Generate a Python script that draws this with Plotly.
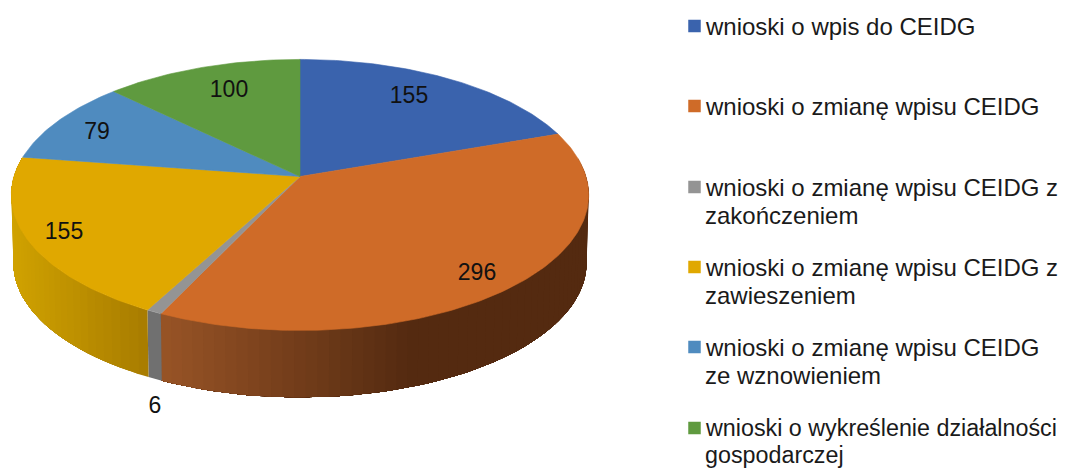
import math
import plotly.graph_objects as go

# Data
categories = [
    "wnioski o wpis do CEIDG",
    "wnioski o zmianę wpisu CEIDG",
    "wnioski o zmianę wpisu CEIDG z<br>zakończeniem",
    "wnioski o zmianę wpisu CEIDG z<br>zawieszeniem",
    "wnioski o zmianę wpisu CEIDG<br>ze wznowieniem",
    "wnioski o wykreślenie działalności<br>gospodarczej",
]
values = [155, 296, 6, 155, 79, 100]
top_colors = ["#3A63AD", "#CF6B28", "#949494", "#E0A800", "#4F8BBF", "#5F9A3F"]

# Styling of the side wall: (left x, left rgb, right x, right rgb)
side_ramps = [
    None,
    (160, (152, 84, 38), 410, (84, 42, 16)),
    (146, (112, 112, 112), 165, (112, 112, 112)),
    (11, (208, 162, 0), 146, (168, 124, 0)),
    None,
    None,
]

# Projection of the tilted disc
CX, CY, RX, RY, K = 300, 176.5, 286, 133, 0.136
DEPTH = 68
BOTTOM_SCALE = 0.993


def project(phi, dy=0.0, scale=1.0):
    c, s = math.cos(phi), math.sin(phi)
    d = 1 - K * s
    return CX + scale * RX * c / d, CY + dy + scale * RY * s / d


def side_color(ramp, x):
    x0, c0, x1, c1 = ramp
    t = min(1, max(0, (x - x0) / (x1 - x0)))
    return "rgb(%d,%d,%d)" % tuple(round(a + (b - a) * t) for a, b in zip(c0, c1))


fig = go.Figure()
total = sum(values)

# Slice boundaries, clockwise from 12 o'clock
edges = [-math.pi / 2]
for v in values:
    edges.append(edges[-1] + 2 * math.pi * v / total)

# Side wall: painter's strips, each one reaches to the end of its slice so no seams show
VIS0, VIS1 = math.radians(-8), math.radians(188)
for i, ramp in enumerate(side_ramps):
    if ramp is None:
        continue
    a0, a1 = max(edges[i], VIS0), min(edges[i + 1], VIS1)
    if a1 <= a0:
        continue
    n = max(1, int((a1 - a0) / math.radians(2.0)))
    angles = [a0 + (a1 - a0) * j / n for j in range(n + 1)]
    for j in range(n):
        arc = angles[j:]
        top = [project(a) for a in arc]
        bottom = [project(a, DEPTH, BOTTOM_SCALE) for a in reversed(arc)]
        pts = top + bottom + [top[0]]
        mid = project((angles[j] + angles[j + 1]) / 2)
        col = side_color(ramp, mid[0])
        fig.add_trace(go.Scatter(x=[p[0] for p in pts], y=[p[1] for p in pts], mode="lines",
                                 fill="toself", fillcolor=col, line=dict(width=0),
                                 hoverinfo="skip", showlegend=False))

# Top face
for i, v in enumerate(values):
    n = max(2, int((edges[i + 1] - edges[i]) / math.radians(1)))
    arc = [project(edges[i] + (edges[i + 1] - edges[i]) * j / n) for j in range(n + 1)]
    xs = [CX] + [p[0] for p in arc] + [CX]
    ys = [CY] + [p[1] for p in arc] + [CY]
    fig.add_trace(go.Scatter(x=xs, y=ys, mode="lines", fill="toself", fillcolor=top_colors[i],
                             line=dict(color=top_colors[i], width=0.6), name=categories[i].replace("<br>", " "),
                             text=str(v), hoverinfo="name+text", showlegend=False))

# Value labels
label_x = [409, 477, 155, 64, 97, 229]
label_y = [97, 274, 407, 233, 133, 91]
fig.add_trace(go.Scatter(x=label_x, y=label_y, mode="text", text=[str(v) for v in values],
                         textposition="middle center",
                         textfont=dict(family="Liberation Sans", size=23, color="#111111"),
                         hoverinfo="skip", showlegend=False))

# Legend
legend_y = [26, 106, 187, 267, 347, 428]
legend_font = [24, 24, 24, 24, 24, 23.3]
line_gap = [28, 28, 28, 28, 28, 26.5]
fig.add_trace(go.Scatter(x=[694.5] * 6, y=legend_y, mode="markers",
                         marker=dict(symbol="square", size=12.5, color=top_colors, line=dict(width=0)),
                         hoverinfo="skip", showlegend=False))
for cat, y, fs, gap in zip(categories, legend_y, legend_font, line_gap):
    for k, line in enumerate(cat.split("<br>")):
        fig.add_annotation(x=705, y=y + k * gap, text=line, showarrow=False, xanchor="left",
                           yanchor="middle", align="left", borderpad=0, borderwidth=0,
                           font=dict(family="Liberation Sans", size=fs, color="#1a1a1a"))

fig.update_layout(
    width=1070, height=468, margin=dict(l=0, r=0, t=0, b=0),
    paper_bgcolor="white", plot_bgcolor="white", showlegend=False,
    xaxis=dict(range=[0, 1070], visible=False, fixedrange=True),
    yaxis=dict(range=[468, 0], visible=False, fixedrange=True),
)
fig.write_html("out.html", config=dict(displayModeBar=False),
               post_script="document.body.style.margin='0';document.documentElement.style.overflow='hidden';")
